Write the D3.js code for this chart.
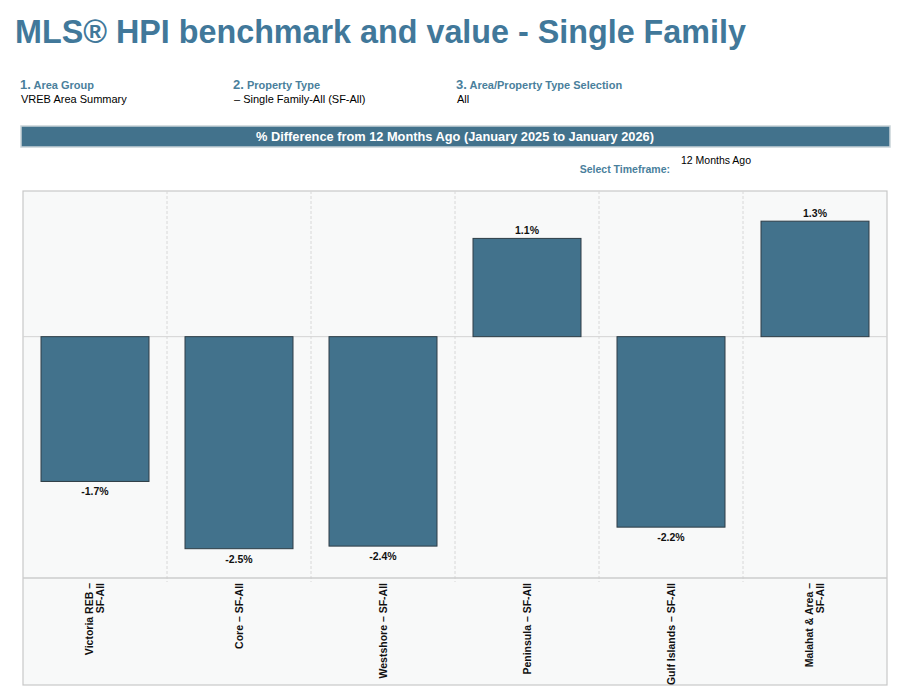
<!DOCTYPE html>
<html>
<head>
<meta charset="utf-8">
<script src="https://cdn.jsdelivr.net/npm/d3@7"></script>
<style>
  body { margin: 0; background: #fff; font-family: "Liberation Sans", Arial, sans-serif; }
</style>
</head>
<body>
<div id="chart"></div>
<script>
var categories = [["Victoria REB –", "SF-All"], ["Core – SF-All"], ["Westshore – SF-All"], ["Peninsula – SF-All"], ["Gulf Islands – SF-All"], ["Malahat & Area –", "SF-All"]],
    values = [-1.68, -2.46, -2.43, 1.14, -2.21, 1.34],
    filters = [["1.", "Area Group", "VREB Area Summary"], ["2.", "Property Type", "– Single Family-All (SF-All)"], ["3.", "Area/Property Type Selection", "All"]],
    filterX = [20, 233, 456];

var W = 916, H = 690,
    blue = "#42728c",
    labelBlue = "#4a7f9c",
    plot = { left: 23, right: 887, top: 191, bottom: 578, foot: 685 };

var svg = d3.select("#chart").append("svg")
    .attr("width", W)
    .attr("height", H);

// title
svg.append("text")
    .attr("x", 15).attr("y", 43)
    .style("font-size", "32.3px").style("font-weight", "bold")
    .style("fill", "#41789a")
    .text("MLS® HPI benchmark and value - Single Family");

// filter headings
var f = svg.selectAll(".filter").data(filters).enter().append("g")
    .attr("transform", function(d, i) { return "translate(" + filterX[i] + ",0)"; });
var head = f.append("text").attr("y", 89).style("fill", labelBlue).style("font-weight", "bold");
head.append("tspan").style("font-size", "13px").text(function(d) { return d[0]; });
head.append("tspan").style("font-size", "11px").text(function(d) { return " " + d[1]; });
f.append("text").attr("x", 1).attr("y", 103).style("font-size", "11px").style("fill", "#000")
    .text(function(d) { return d[2]; });

// header band
svg.append("rect")
    .attr("x", 21).attr("y", 126).attr("width", 869).attr("height", 21)
    .style("fill", blue).style("stroke", "#c9d3d8").style("stroke-width", 1.5);
svg.append("text")
    .attr("x", 455).attr("y", 141).attr("text-anchor", "middle")
    .style("fill", "#fff").style("font-weight", "bold").style("font-size", "12.8px")
    .text("% Difference from 12 Months Ago (January 2025 to January 2026)");

svg.append("text").attr("x", 670).attr("y", 173).attr("text-anchor", "end")
    .style("fill", labelBlue).style("font-weight", "bold").style("font-size", "10.5px")
    .text("Select Timeframe:");
svg.append("text").attr("x", 681).attr("y", 164)
    .style("fill", "#000").style("font-size", "10.5px")
    .text("12 Months Ago");

// scales
var x = d3.scaleBand()
    .domain(d3.range(values.length))
    .range([plot.left, plot.right])
    .paddingInner(0.25).paddingOuter(0.125);
var y = d3.scaleLinear()
    .domain([-2.8, 1.69])
    .range([plot.bottom, plot.top]);

// plot background
svg.append("rect")
    .attr("x", plot.left).attr("y", plot.top)
    .attr("width", plot.right - plot.left).attr("height", plot.foot - plot.top)
    .style("fill", "#f8f9f9").style("stroke", "#c8c8c8").style("stroke-width", 1.2);

// column separators
var step = x.step();
svg.selectAll(".sep").data(d3.range(1, values.length)).enter().append("line")
    .attr("x1", function(d) { return plot.left + d * step; })
    .attr("x2", function(d) { return plot.left + d * step; })
    .attr("y1", plot.top).attr("y2", plot.bottom + 4)
    .style("stroke", "#d8d8d8").style("stroke-dasharray", "3,2");

// zero line
svg.append("line")
    .attr("x1", plot.left).attr("x2", plot.right)
    .attr("y1", y(0)).attr("y2", y(0))
    .style("stroke", "#d4d4d4");

// axis line
svg.append("line")
    .attr("x1", plot.left).attr("x2", plot.right)
    .attr("y1", plot.bottom).attr("y2", plot.bottom)
    .style("stroke", "#cccccc").style("stroke-width", 1.5);

// bars
svg.selectAll(".bar").data(values).enter().append("rect")
    .attr("x", function(d, i) { return x(i); })
    .attr("width", x.bandwidth())
    .attr("y", function(d) { return y(Math.max(0, d)); })
    .attr("height", function(d) { return Math.abs(y(d) - y(0)); })
    .style("fill", blue).style("stroke", "#2e3d46").style("stroke-width", 1);

// value labels (plain hyphen for minus)
var fmt = d3.formatLocale({ decimal: ".", thousands: ",", grouping: [3], currency: ["", ""], minus: "-" }).format(".1f");
svg.selectAll(".val").data(values).enter().append("text")
    .attr("x", function(d, i) { return x(i) + x.bandwidth() / 2; })
    .attr("y", function(d) { return d < 0 ? y(d) + 14 : y(d) - 4; })
    .attr("text-anchor", "middle")
    .style("font-size", "10.5px").style("font-weight", "bold").style("fill", "#111")
    .text(function(d) { return fmt(d) + "%"; });

// category labels (rotated)
var cat = svg.selectAll(".cat").data(categories).enter().append("g")
    .attr("transform", function(d, i) { return "translate(" + (x(i) + x.bandwidth() / 2) + "," + (plot.bottom + 5) + ") rotate(-90)"; });
cat.selectAll("text").data(function(d) { return d.map(function(t, j) { return [t, j, d.length]; }); })
    .enter().append("text")
    .attr("x", 0)
    .attr("y", function(d) { return (d[1] - (d[2] - 1) / 2) * 10.5 + 3.5; })
    .attr("text-anchor", "end")
    .style("font-size", "10.5px").style("font-weight", "bold").style("fill", "#111")
    .text(function(d) { return d[0]; });
</script>
</body>
</html>
